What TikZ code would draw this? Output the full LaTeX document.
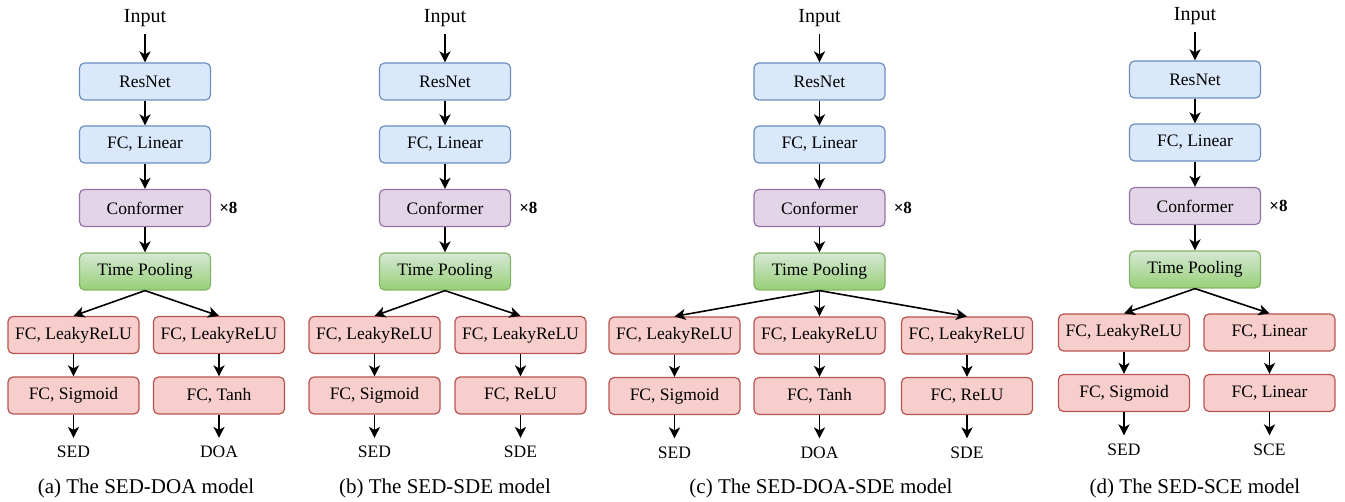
\documentclass[tikz,border=0pt]{standalone}
\usepackage{fontspec}
\setmainfont{Liberation Serif}
\usetikzlibrary{arrows.meta}

\definecolor{blueF}{HTML}{DAE8FC}
\definecolor{blueD}{HTML}{6C8EBF}
\definecolor{purpF}{HTML}{E1D5E7}
\definecolor{purpD}{HTML}{9673A6}
\definecolor{greenT}{HTML}{D5E8D4}
\definecolor{greenB}{HTML}{97D077}
\definecolor{greenD}{HTML}{82B366}
\definecolor{redF}{HTML}{F8CECC}
\definecolor{redD}{HTML}{B85450}

\tikzset{
  blk/.style={rounded corners=5pt, minimum width=131pt, minimum height=37pt,
    line width=1.2pt, inner sep=0pt, font=\fontsize{17.5}{20}\selectfont},
  bluebox/.style={blk, fill=blueF, draw=blueD},
  purplebox/.style={blk, fill=purpF, draw=purpD},
  greenbox/.style={blk, draw=greenD, top color=greenT, bottom color=greenB},
  redbox/.style={blk, fill=redF, draw=redD},
  arr/.style={-{Stealth[length=11pt,width=11pt,inset=3pt]}, line width=1.9pt},
  darr/.style={-{Stealth[length=11pt,width=11pt,inset=3pt]}, line width=1.6pt},
  inlbl/.style={font=\fontsize{20}{22}\selectfont, inner xsep=2pt, inner ysep=7pt},
  outlbl/.style={font=\fontsize{17.5}{20}\selectfont, inner xsep=2pt, inner ysep=8pt},
  rep/.style={font=\bfseries\fontsize{17}{20}\selectfont, inner sep=0pt},
  captext/.style={font=\fontsize{21}{24}\selectfont, inner sep=0pt}
}

% shared trunk: prefix, centre x, vertical offset
\newcommand\mytrunk[3]{%
  \node[inlbl] (#1in) at (#2,18.5+#3) {Input};
  \node[bluebox] (#1res) at (#2,81.5+#3) {ResNet};
  \node[bluebox] (#1lin) at (#2,144.5+#3) {FC, Linear};
  \node[purplebox] (#1conf) at (#2,208+#3) {Conformer};
  \node[rep, anchor=west] (#1rep) at ([xshift=8pt]#1conf.east) {×8};
  \node[greenbox] (#1pool) at (#2,271.5+#3) {Time Pooling};
  \draw[arr] (#1in) -- (#1res);
  \draw[arr] (#1res) -- (#1lin);
  \draw[arr] (#1lin) -- (#1conf);
  \draw[arr] (#1conf) -- (#1pool);
}

% output head: prefix, id, centre x, vertical offset, first layer, second layer, output
\newcommand\mybranch[7]{%
  \node[redbox] (#1#2a) at (#3,335+#4) {#5};
  \node[redbox] (#1#2b) at (#3,395.5+#4) {#6};
  \node[outlbl] (#1#2o) at (#3,452+#4) {#7};
  \draw[darr] (#1pool.south) -- (#1#2a.north);
  \draw[arr] (#1#2a) -- (#1#2b);
  \draw[arr] (#1#2b) -- (#1#2o);
}

\begin{document}
\begin{tikzpicture}[x=1pt,y=-1pt]
  \useasboundingbox (0,0) rectangle (1345,502);

  % (a) SED-DOA
  \mytrunk{a}{145}{0}
  \mybranch{a}{l}{73.5}{0}{FC, LeakyReLU}{FC, Sigmoid}{SED}
  \mybranch{a}{r}{219}{0}{FC, LeakyReLU}{FC, Tanh}{DOA}
  \node[captext] (capa) at (146,488) {(a) The SED-DOA model};

  % (b) SED-SDE
  \mytrunk{b}{445}{0}
  \mybranch{b}{l}{374.5}{0}{FC, LeakyReLU}{FC, Sigmoid}{SED}
  \mybranch{b}{r}{520.5}{0}{FC, LeakyReLU}{FC, ReLU}{SDE}
  \node[captext] (capb) at (445,488) {(b) The SED-SDE model};

  % (c) SED-DOA-SDE
  \mytrunk{c}{819.5}{0}
  \mybranch{c}{l}{674.5}{0.5}{FC, LeakyReLU}{FC, Sigmoid}{SED}
  \mybranch{c}{m}{819.5}{0.5}{FC, LeakyReLU}{FC, Tanh}{DOA}
  \mybranch{c}{r}{967}{0.5}{FC, LeakyReLU}{FC, ReLU}{SDE}
  \node[captext] (capc) at (821,488) {(c) The SED-DOA-SDE model};

  % (d) SED-SCE
  \mytrunk{d}{1195}{-2}
  \mybranch{d}{l}{1124}{-2.5}{FC, LeakyReLU}{FC, Sigmoid}{SED}
  \mybranch{d}{r}{1269.5}{-2.5}{FC, Linear}{FC, Linear}{SCE}
  \node[captext] (capd) at (1195,488) {(d) The SED-SCE model};
\end{tikzpicture}
\end{document}
